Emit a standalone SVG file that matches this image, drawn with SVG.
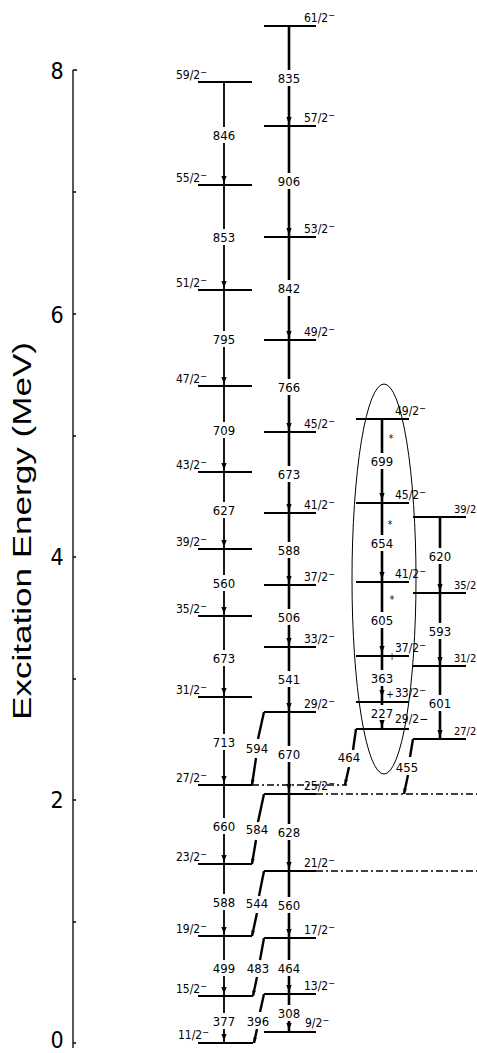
<svg xmlns="http://www.w3.org/2000/svg" width="477" height="1053" viewBox="0 0 477 1053">
<style>
.lv{stroke:#000;stroke-width:1.9;fill:none}
.vl{stroke:#000;stroke-width:1.8;fill:none}
.vr{stroke:#000;stroke-width:2.6;fill:none}
.dg{stroke:#000;stroke-width:2.4;fill:none}
.dd{stroke:#000;stroke-width:1.6;fill:none;stroke-dasharray:7 3 2 3}
.ax{stroke:#000;stroke-width:1.3;fill:none}
text{font-family:"Liberation Sans Narrow","DejaVu Sans Condensed","Liberation Sans",sans-serif;fill:#000}
.e{font-size:13px;text-anchor:middle}
.s{font-size:12px}
.sb{font-size:11px}
.sl{font-size:12px;text-anchor:end}
.tk{font-size:23px;text-anchor:middle}
.mk{font-size:10px;text-anchor:middle}
</style>
<defs>
<path id="ah" d="M0,0 L-2.6,-7 L2.6,-7 Z" fill="#000"/>
<marker id="arr" markerUnits="userSpaceOnUse" markerWidth="6" markerHeight="10" refX="9" refY="3" orient="auto" viewBox="0 0 10 6">
<path d="M0,0 L10,3 L0,6 Z" fill="#000"/>
</marker>
</defs>

<g id="axis">
<path class="ax" d="M73 70 V1048 M73 70 H77 M73 192 H76 M73 314 H76 M73 436 H76 M73 557 H76 M73 679 H76 M73 800 H76 M73 922 H76 M73 1043 H76"/>
<text class="tk" x="57" y="79">8</text>
<text class="tk" x="57" y="323">6</text>
<text class="tk" x="57" y="565">4</text>
<text class="tk" x="57" y="808">2</text>
<text class="tk" x="57" y="1048">0</text>
<text transform="translate(31,531) rotate(-90)" text-anchor="middle" font-size="26" textLength="378" lengthAdjust="spacingAndGlyphs" style="font-family:'Liberation Sans',sans-serif">Excitation Energy (MeV)</text>
</g>

<g id="lvl-L59"><path class="lv" d="M198 82 H252"/><text class="sl" x="207" y="79">59/2<tspan dy="-4" font-size="9">−</tspan></text></g>
<g id="lvl-L55"><path class="lv" d="M198 185 H252"/><text class="sl" x="207" y="182">55/2<tspan dy="-4" font-size="9">−</tspan></text></g>
<g id="lvl-L51"><path class="lv" d="M198 290 H252"/><text class="sl" x="207" y="287">51/2<tspan dy="-4" font-size="9">−</tspan></text></g>
<g id="lvl-L47"><path class="lv" d="M198 386 H252"/><text class="sl" x="207" y="383">47/2<tspan dy="-4" font-size="9">−</tspan></text></g>
<g id="lvl-L43"><path class="lv" d="M198 472 H252"/><text class="sl" x="207" y="469">43/2<tspan dy="-4" font-size="9">−</tspan></text></g>
<g id="lvl-L39"><path class="lv" d="M198 549 H252"/><text class="sl" x="207" y="546">39/2<tspan dy="-4" font-size="9">−</tspan></text></g>
<g id="lvl-L35"><path class="lv" d="M198 616 H252"/><text class="sl" x="207" y="613">35/2<tspan dy="-4" font-size="9">−</tspan></text></g>
<g id="lvl-L31"><path class="lv" d="M198 697 H252"/><text class="sl" x="207" y="694">31/2<tspan dy="-4" font-size="9">−</tspan></text></g>
<g id="lvl-L27"><path class="lv" d="M198 785 H252"/><text class="sl" x="207" y="782">27/2<tspan dy="-4" font-size="9">−</tspan></text></g>
<g id="lvl-L23"><path class="lv" d="M198 864 H252"/><text class="sl" x="207" y="861">23/2<tspan dy="-4" font-size="9">−</tspan></text></g>
<g id="lvl-L19"><path class="lv" d="M198 936 H252"/><text class="sl" x="207" y="933">19/2<tspan dy="-4" font-size="9">−</tspan></text></g>
<g id="lvl-L15"><path class="lv" d="M198 996 H253"/><text class="sl" x="207" y="993">15/2<tspan dy="-4" font-size="9">−</tspan></text></g>
<g id="lvl-L11"><path class="lv" d="M198 1043 H253"/><text class="sl" x="209" y="1039">11/2<tspan dy="-4" font-size="9">−</tspan></text></g>

<g id="lvl-R61"><path class="lv" d="M264 26 H316"/><text class="s" x="304" y="22">61/2<tspan dy="-4" font-size="9">−</tspan></text></g>
<g id="lvl-R57"><path class="lv" d="M264 126 H316"/><text class="s" x="304" y="122">57/2<tspan dy="-4" font-size="9">−</tspan></text></g>
<g id="lvl-R53"><path class="lv" d="M264 237 H316"/><text class="s" x="304" y="233">53/2<tspan dy="-4" font-size="9">−</tspan></text></g>
<g id="lvl-R49"><path class="lv" d="M264 340 H316"/><text class="s" x="304" y="336">49/2<tspan dy="-4" font-size="9">−</tspan></text></g>
<g id="lvl-R45"><path class="lv" d="M264 432 H316"/><text class="s" x="304" y="428">45/2<tspan dy="-4" font-size="9">−</tspan></text></g>
<g id="lvl-R41"><path class="lv" d="M264 513 H316"/><text class="s" x="304" y="509">41/2<tspan dy="-4" font-size="9">−</tspan></text></g>
<g id="lvl-R37"><path class="lv" d="M264 585 H316"/><text class="s" x="304" y="581">37/2<tspan dy="-4" font-size="9">−</tspan></text></g>
<g id="lvl-R33"><path class="lv" d="M264 647 H316"/><text class="s" x="304" y="643">33/2<tspan dy="-4" font-size="9">−</tspan></text></g>
<g id="lvl-R29"><path class="lv" d="M264 712 H316"/><text class="s" x="304" y="708">29/2<tspan dy="-4" font-size="9">−</tspan></text></g>
<g id="lvl-R25"><path class="lv" d="M264 794 H316"/><text class="s" x="304" y="790">25/2<tspan dy="-4" font-size="9">−</tspan></text></g>
<g id="lvl-R21"><path class="lv" d="M264 871 H316"/><text class="s" x="304" y="867">21/2<tspan dy="-4" font-size="9">−</tspan></text></g>
<g id="lvl-R17"><path class="lv" d="M264 938 H316"/><text class="s" x="304" y="934">17/2<tspan dy="-4" font-size="9">−</tspan></text></g>
<g id="lvl-R13"><path class="lv" d="M264 994 H316"/><text class="s" x="304" y="990">13/2<tspan dy="-4" font-size="9">−</tspan></text></g>
<g id="lvl-R9"><path class="lv" d="M264 1032 H316"/><text class="s" x="305" y="1027">9/2<tspan dy="-4" font-size="9">−</tspan></text></g>

<g id="lvl-A49"><path class="lv" d="M356 419 H409"/><text class="s" x="395" y="415">49/2<tspan dy="-4" font-size="9">−</tspan></text></g>
<g id="lvl-A45"><path class="lv" d="M356 503 H409"/><text class="s" x="395" y="499">45/2<tspan dy="-4" font-size="9">−</tspan></text></g>
<g id="lvl-A41"><path class="lv" d="M356 582 H409"/><text class="s" x="395" y="578">41/2<tspan dy="-4" font-size="9">−</tspan></text></g>
<g id="lvl-A37"><path class="lv" d="M356 656 H409"/><text class="s" x="395" y="652">37/2<tspan dy="-4" font-size="9">−</tspan></text></g>
<g id="lvl-A33"><path class="lv" d="M356 702 H409"/><text class="s" x="395" y="697">33/2<tspan dy="-4" font-size="9">−</tspan></text></g>
<g id="lvl-A29"><path class="lv" d="M356 729 H409"/><text class="s" x="395" y="723">29/2−</text></g>

<g id="lvl-B39"><path class="lv" d="M413 517 H466"/><text class="sb" x="454" y="513">39/2</text></g>
<g id="lvl-B35"><path class="lv" d="M413 593 H466"/><text class="sb" x="454" y="589">35/2</text></g>
<g id="lvl-B31"><path class="lv" d="M413 666 H466"/><text class="sb" x="454" y="662">31/2</text></g>
<g id="lvl-B27"><path class="lv" d="M413 739 H466"/><text class="sb" x="454" y="735">27/2</text></g>

<g id="band-ellipse"><ellipse cx="384" cy="579" rx="32" ry="195" fill="none" stroke="#000" stroke-width="1"/></g>

<g id="connectors">
<path class="vl" d="M224 82 V127 M224 143 V185 M224 185 V229 M224 245 V290 M224 290 V331 M224 347 V386 M224 386 V422 M224 438 V472 M224 472 V502 M224 518 V549 M224 549 V575 M224 591 V616 M224 616 V650 M224 666 V697 M224 697 V734 M224 750 V785 M224 785 V818 M224 834 V864 M224 864 V894 M224 910 V936 M224 936 V960 M224 976 V996 M224 996 V1013 M224 1029 V1043"/>
<use href="#ah" x="224" y="183"/><use href="#ah" x="224" y="288"/><use href="#ah" x="224" y="384"/><use href="#ah" x="224" y="470"/><use href="#ah" x="224" y="547"/><use href="#ah" x="224" y="614"/><use href="#ah" x="224" y="695"/><use href="#ah" x="224" y="783"/><use href="#ah" x="224" y="862"/><use href="#ah" x="224" y="934"/><use href="#ah" x="224" y="994"/><use href="#ah" x="224" y="1041"/>
<text class="e" x="224" y="140">846</text><text class="e" x="224" y="242">853</text><text class="e" x="224" y="344">795</text><text class="e" x="224" y="435">709</text><text class="e" x="224" y="515">627</text><text class="e" x="224" y="588">560</text><text class="e" x="224" y="663">673</text><text class="e" x="224" y="747">713</text><text class="e" x="224" y="831">660</text><text class="e" x="224" y="907">588</text><text class="e" x="224" y="973">499</text><text class="e" x="224" y="1026">377</text>
<path class="vr" d="M289 26 V70 M289 86 V126 M289 126 V173 M289 189 V237 M289 237 V280 M289 296 V340 M289 340 V379 M289 395 V432 M289 432 V466 M289 482 V513 M289 513 V542 M289 558 V585 M289 585 V609 M289 625 V647 M289 647 V671 M289 687 V712 M289 712 V746 M289 762 V794 M289 794 V824 M289 840 V871 M289 871 V897 M289 913 V938 M289 938 V960 M289 976 V994 M289 994 V1005 M289 1021 V1032"/>
<use href="#ah" x="289" y="124"/><use href="#ah" x="289" y="235"/><use href="#ah" x="289" y="338"/><use href="#ah" x="289" y="430"/><use href="#ah" x="289" y="511"/><use href="#ah" x="289" y="583"/><use href="#ah" x="289" y="645"/><use href="#ah" x="289" y="710"/><use href="#ah" x="289" y="791"/><use href="#ah" x="289" y="869"/><use href="#ah" x="289" y="936"/><use href="#ah" x="289" y="992"/><use href="#ah" x="289" y="1030"/>
<text class="e" x="289" y="83">835</text><text class="e" x="289" y="186">906</text><text class="e" x="289" y="293">842</text><text class="e" x="289" y="392">766</text><text class="e" x="289" y="479">673</text><text class="e" x="289" y="555">588</text><text class="e" x="289" y="622">506</text><text class="e" x="289" y="684">541</text><text class="e" x="289" y="759">670</text><text class="e" x="289" y="837">628</text><text class="e" x="289" y="910">560</text><text class="e" x="289" y="973">464</text><text class="e" x="289" y="1018">308</text>
<path class="vr" d="M382 419 V453 M382 469 V503 M382 503 V535 M382 551 V582 M382 582 V612 M382 628 V656 M382 656 V670 M382 686 V702 M382 702 V705 M382 721 V729"/>
<use href="#ah" x="382" y="500"/><use href="#ah" x="382" y="579"/><use href="#ah" x="382" y="653"/><use href="#ah" x="382" y="697"/><use href="#ah" x="382" y="727"/>
<text class="e" x="382" y="466">699</text><text class="e" x="382" y="548">654</text><text class="e" x="382" y="625">605</text><text class="e" x="382" y="683">363</text><text class="e" x="382" y="718">227</text>
<text class="mk" x="391" y="442">*</text><text class="mk" x="390" y="528">*</text><text class="mk" x="392" y="603">*</text><text class="mk" x="392" y="660" font-size="8">+</text><text class="mk" x="390" y="698" font-size="8">+</text>
<path class="vr" d="M440 517 V548 M440 564 V593 M440 593 V623 M440 639 V666 M440 666 V695 M440 711 V739"/>
<use href="#ah" x="440" y="591"/><use href="#ah" x="440" y="664"/><use href="#ah" x="440" y="737"/>
<text class="e" x="440" y="561">620</text><text class="e" x="440" y="636">593</text><text class="e" x="440" y="708">601</text>
<path class="dg" d="M264 712 L258 739"/><path class="dg" d="M256 758 L252 785" marker-end="url(#arr)"/><text class="e" x="257" y="753">594</text>
<path class="dg" d="M264 794 L258 822"/><path class="dg" d="M256 840 L252 864" marker-end="url(#arr)"/><text class="e" x="257" y="834">584</text>
<path class="dg" d="M264 871 L259 896"/><path class="dg" d="M257 913 L252 936" marker-end="url(#arr)"/><text class="e" x="257" y="908">544</text>
<path class="dg" d="M264 938 L260 960"/><path class="dg" d="M257 977 L253 996" marker-end="url(#arr)"/><text class="e" x="258" y="973">483</text>
<path class="dg" d="M264 994 L260 1012"/><path class="dg" d="M257 1029 L254 1043" marker-end="url(#arr)"/><text class="e" x="258" y="1026">396</text>
<path class="dg" d="M356 729 L353 750"/><path class="dg" d="M349 767 L345 785" marker-end="url(#arr)"/><text class="e" x="349" y="762">464</text>
<path class="dg" d="M413 739 L410 757"/><path class="dg" d="M408 775 L404 794" marker-end="url(#arr)"/><text class="e" x="407" y="772">455</text>
<path class="dd" d="M252 785 H347"/>
<path class="dd" d="M316 794 H477"/>
<path class="dd" d="M316 871 H477"/>
</g>
</svg>
